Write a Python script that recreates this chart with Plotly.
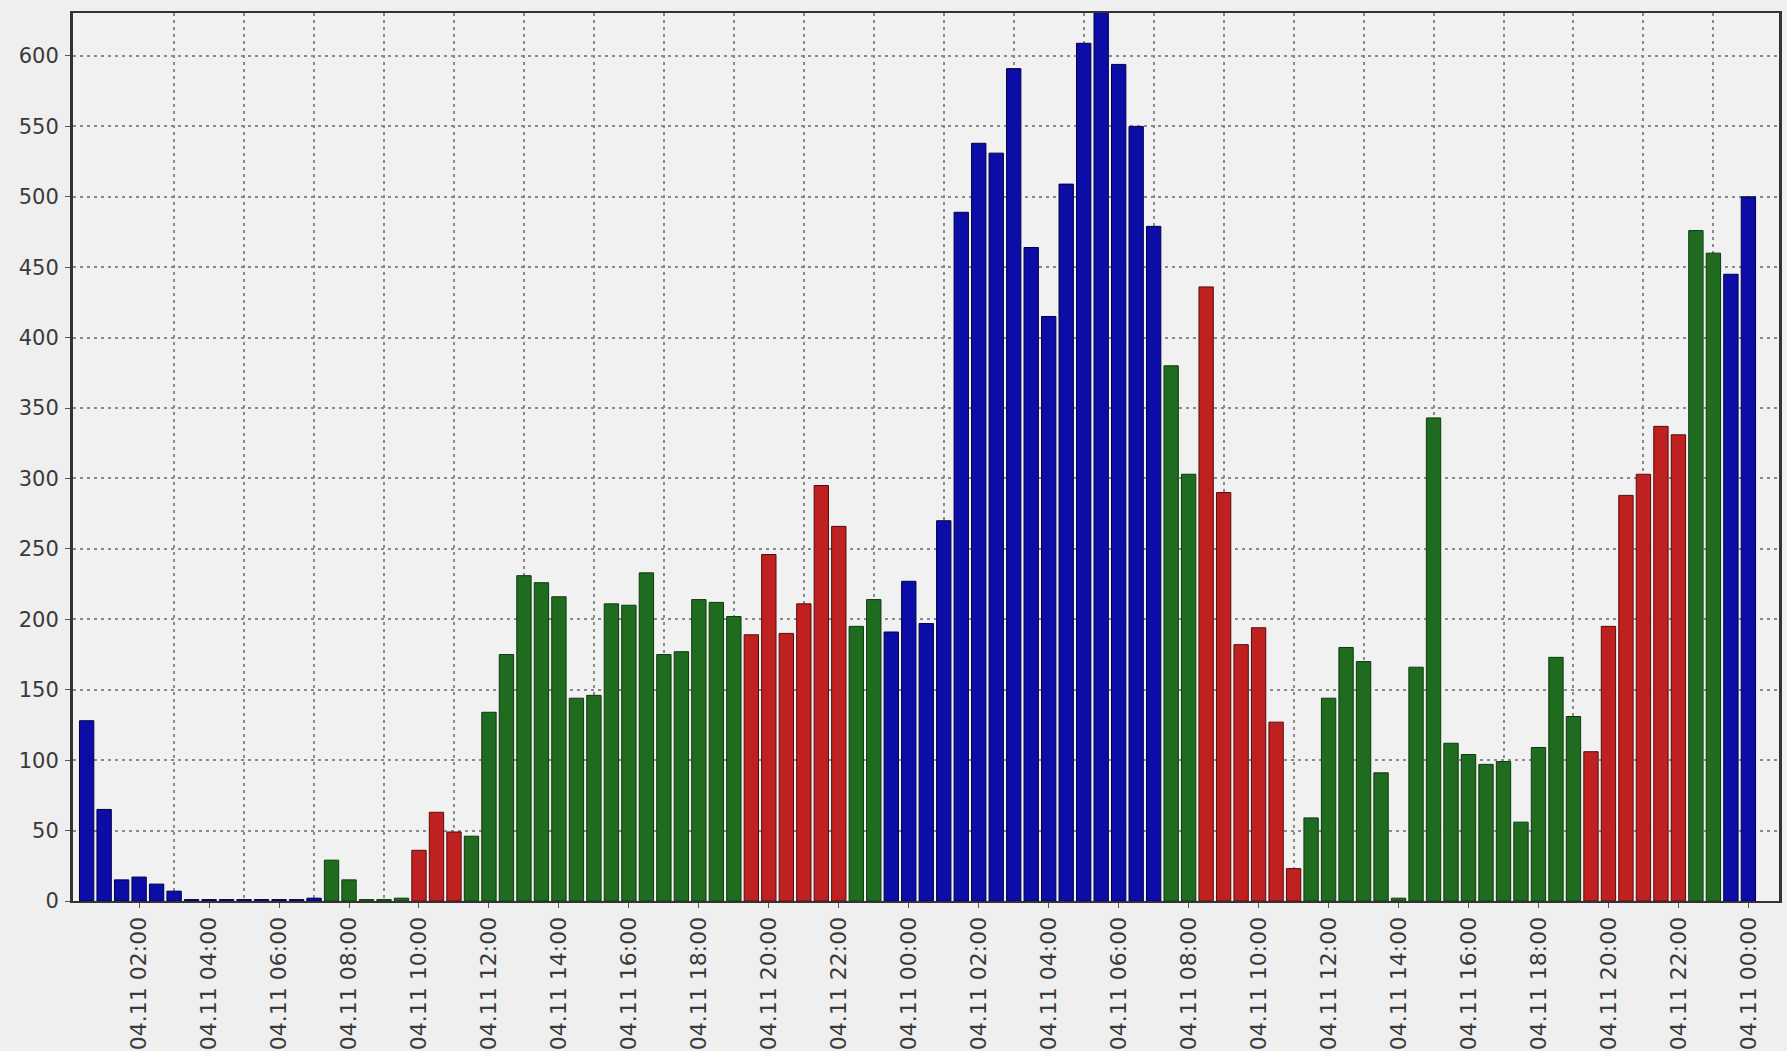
import pandas as pd
import plotly.graph_objects as go

# ---- data -------------------------------------------------------------
start_time = "2011-11-04 00:30"
n_bars = 96
bar_times = pd.date_range(start=start_time, periods=n_bars, freq="30min")

values = [
    128, 65, 15, 17, 12, 7, 1, 1, 1, 1, 1, 1, 1, 2,
    29, 15, 1, 1, 2,
    36, 63, 49,
    46, 134, 175, 231, 226, 216, 144, 146, 211, 210, 233, 175, 177, 214, 212, 202,
    189, 246, 190, 211, 295, 266,
    195, 214,
    191, 227, 197, 270, 489, 538, 531, 591, 464, 415, 509, 609, 632, 594, 550, 479,
    380, 303,
    436, 290, 182, 194, 127, 23,
    59, 144, 180, 170, 91, 2, 166, 343, 112, 104, 97, 99, 56, 109, 173, 131,
    106, 195, 288, 303, 337, 331,
    476, 460,
    445, 500,
]

levels = (
    ["B"] * 14 + ["G"] * 5 + ["R"] * 3 + ["G"] * 16 + ["R"] * 6 + ["G"] * 2
    + ["B"] * 16 + ["G"] * 2 + ["R"] * 6 + ["G"] * 16 + ["R"] * 6 + ["G"] * 2
    + ["B"] * 2
)

tick_times = pd.date_range(start="2011-11-04 02:00", periods=24, freq="2h")
tick_labels = [
    "04.11 02:00", "04.11 04:00", "04.11 06:00", "04.11 08:00", "04.11 10:00",
    "04.11 12:00", "04.11 14:00", "04.11 16:00", "04.11 18:00", "04.11 20:00",
    "04.11 22:00", "04.11 00:00", "04.11 02:00", "04.11 04:00", "04.11 06:00",
    "04.11 08:00", "04.11 10:00", "04.11 12:00", "04.11 14:00", "04.11 16:00",
    "04.11 18:00", "04.11 20:00", "04.11 22:00", "04.11 00:00",
]
grid_times = pd.date_range(start="2011-11-04 03:00", periods=23, freq="2h")
y_ticks = [0, 50, 100, 150, 200, 250, 300, 350, 400, 450, 500, 550, 600]

# ---- styles -----------------------------------------------------------
fill_map = {"B": "#0c0ca6", "G": "#1f6b1f", "R": "#bf2121"}
line_map = {"B": "#00004a", "G": "#0c3a0c", "R": "#5a0a0a"}

fig = go.Figure(
    go.Bar(
        x=bar_times,
        y=values,
        marker=dict(
            color=[fill_map[l] for l in levels],
            line=dict(color=[line_map[l] for l in levels], width=1),
        ),
        hoverinfo="x+y",
    )
)

half = pd.Timedelta(minutes=30)
x_start = bar_times[0] - 0.78 * half
x_end = bar_times[-1] + 1.75 * half

fig.update_layout(
    width=1787,
    height=1051,
    margin=dict(l=73, r=8, t=13, b=149.5),
    paper_bgcolor="#efefef",
    plot_bgcolor="#f1f1f1",
    bargap=0.18,
    showlegend=False,
    font=dict(family="DejaVu Sans", size=21, color="#3a3a3a"),
)

fig.update_xaxes(
    type="date",
    automargin=False,
    range=[x_start, x_end],
    tickmode="array",
    tickvals=tick_times,
    ticktext=tick_labels,
    tickangle=-90,
    tickfont=dict(family="DejaVu Sans", size=22, color="#3a3a3a"),
    ticks="outside",
    ticklen=5,
    tickcolor="#555555",
    ticklabelstandoff=0,
    showgrid=False,
    minor=dict(
        tickmode="array",
        tickvals=grid_times,
        showgrid=True,
        gridcolor="#8a8a8a",
        griddash="3px,4px",
        gridwidth=1.5,
        ticks="",
    ),
    showline=True,
    linecolor="#333333",
    linewidth=2,
    mirror=True,
    zeroline=False,
)

fig.update_yaxes(
    automargin=False,
    range=[0, 630.5],
    tickmode="array",
    tickvals=y_ticks,
    ticktext=[str(v) for v in y_ticks],
    tickfont=dict(family="DejaVu Sans", size=21, color="#3a3a3a"),
    ticks="outside",
    ticklen=5,
    tickcolor="#555555",
    ticklabelstandoff=2,
    showgrid=True,
    gridcolor="#8a8a8a",
    griddash="3px,4px",
    gridwidth=1.5,
    showline=True,
    linecolor="#333333",
    linewidth=3,
    mirror=True,
    zeroline=False,
)

page_fix = (
    "document.body.style.margin='0';"
    "document.body.style.overflow='hidden';"
    "document.body.style.background='#efefef';"
)

fig.write_html("out.html", post_script=page_fix, config={"displayModeBar": False})
